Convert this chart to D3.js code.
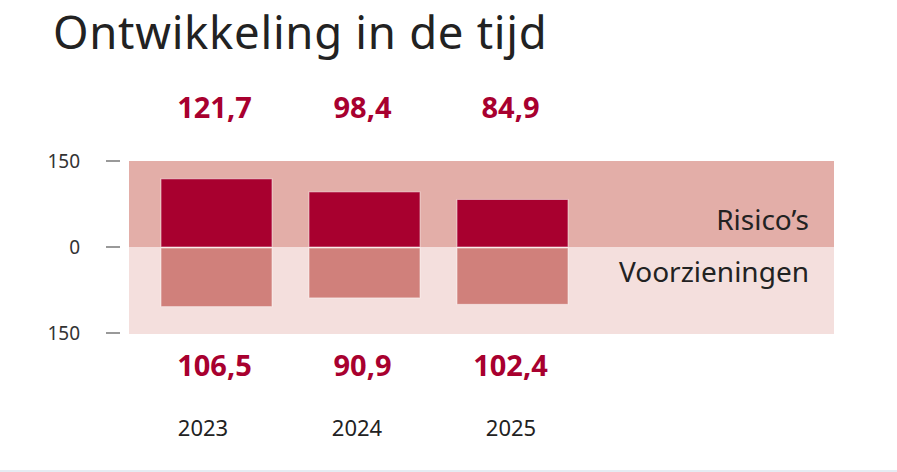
<!DOCTYPE html>
<html>
<head>
<meta charset="utf-8">
<script src="https://cdn.jsdelivr.net/npm/d3@7"></script>
<style>
  body { margin: 0; background: #fff; }
  svg { display: block; font-family: "Source Sans Pro", "Noto Sans", "Open Sans", sans-serif; }
</style>
</head>
<body>
<svg id="chart" width="897" height="472"></svg>
<script>
const years = ['2023', '2024', '2025']
const risicos = [121.7, 98.4, 84.9]
const voorzieningen = [106.5, 90.9, 102.4]
const ticks = [150, 0, -150]

const svg = d3.select('#chart')
const fmt = v => d3.format('.1f')(v).replace('.', ',')

// bars sit slightly unevenly in the original, a band scale is close enough
const x = d3.scaleBand().domain(years).range([161, 568]).paddingInner(0.25)
const xl = d3.scalePoint().domain(years).range([203, 511])
const y = d3.scaleLinear().domain([-150, 150]).range([331, 163])
const zero = y(0)

// title
svg.append('text')
  .attr('x', 53).attr('y', 49)
  .attr('font-size', 45.5).attr('letter-spacing', 0.7).attr('fill', '#222')
  .text('Ontwikkeling in de tijd')

// background bands
svg.append('rect').attr('x', 129).attr('width', 705)
  .attr('y', y(150) - 2).attr('height', zero - y(150) + 2).attr('fill', '#e3aea8')
svg.append('rect').attr('x', 129).attr('width', 705)
  .attr('y', zero).attr('height', y(-150) - zero + 3).attr('fill', '#f4dfdd')

// axis ticks, pinned to the band edges
const tickY = d => d === 0 ? zero : d > 0 ? y(d) - 2 : y(d) + 2
const tk = svg.append('g').selectAll('g').data(ticks).enter().append('g')
tk.append('line')
  .attr('x1', 106).attr('x2', 120)
  .attr('y1', tickY).attr('y2', tickY)
  .attr('stroke', '#777').attr('stroke-width', 1.5)
tk.append('text')
  .attr('x', 80).attr('y', tickY).attr('dy', '0.35em')
  .attr('text-anchor', 'end').attr('font-size', 19).attr('fill', '#333')
  .text(d => Math.abs(d))

// bars
svg.append('g').selectAll('rect').data(years).enter().append('rect')
  .attr('x', d => x(d)).attr('width', x.bandwidth())
  .attr('y', (d, i) => y(risicos[i])).attr('height', (d, i) => zero - y(risicos[i]))
  .attr('fill', '#a8002f')
  .attr('stroke', '#fff').attr('stroke-opacity', 0.5).attr('stroke-width', 1)
svg.append('g').selectAll('rect').data(years).enter().append('rect')
  .attr('x', d => x(d)).attr('width', x.bandwidth())
  .attr('y', zero + 1).attr('height', (d, i) => y(-voorzieningen[i]) - zero - 1)
  .attr('fill', '#d0807b')
  .attr('stroke', '#fff').attr('stroke-opacity', 0.5).attr('stroke-width', 1)

// value labels
svg.append('g').selectAll('text').data(years).enter().append('text')
  .attr('x', d => x(d) + x.bandwidth() / 2 - 2).attr('y', 118)
  .attr('text-anchor', 'middle').attr('font-size', 29).attr('font-weight', 'bold')
  .attr('fill', '#a8002f')
  .text((d, i) => fmt(risicos[i]))
svg.append('g').selectAll('text').data(years).enter().append('text')
  .attr('x', d => x(d) + x.bandwidth() / 2 - 2).attr('y', 376)
  .attr('text-anchor', 'middle').attr('font-size', 29).attr('font-weight', 'bold')
  .attr('fill', '#a8002f')
  .text((d, i) => fmt(voorzieningen[i]))

// year labels
svg.append('g').selectAll('text').data(years).enter().append('text')
  .attr('x', d => xl(d)).attr('y', 436)
  .attr('text-anchor', 'middle').attr('font-size', 22).attr('fill', '#222')
  .text(d => d)

// series labels
svg.append('text').attr('x', 809).attr('y', 230)
  .attr('text-anchor', 'end').attr('font-size', 28).attr('fill', '#222')
  .text('Risico’s')
svg.append('text').attr('x', 809).attr('y', 282)
  .attr('text-anchor', 'end').attr('font-size', 28).attr('fill', '#222')
  .text('Voorzieningen')

// bottom rule
svg.append('line').attr('x1', 0).attr('x2', 897).attr('y1', 471).attr('y2', 471)
  .attr('stroke', '#dde6ef').attr('stroke-width', 1.5)
</script>
</body>
</html>
